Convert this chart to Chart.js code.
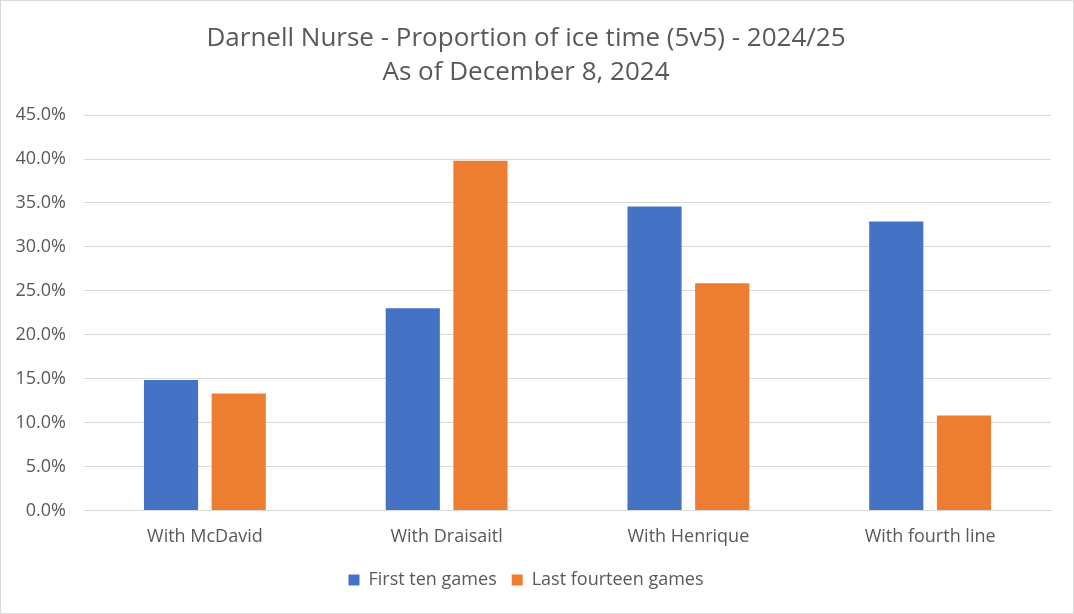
<!DOCTYPE html>
<html>
<head>
<meta charset="utf-8">
<script src="https://cdn.jsdelivr.net/npm/chart.js@4"></script>
<style>
  body { margin: 0; background: #fff; }
  #wrap { width: 1074px; height: 614px; box-sizing: border-box; border: 1px solid #d9d9d9; }
</style>
</head>
<body>
<div id="wrap"><canvas id="chart"></canvas></div>
<script>
var categories = ['With McDavid', 'With Draisaitl', 'With Henrique', 'With fourth line'];
var firstTen = [14.85, 23.0, 34.6, 32.9];
var lastFourteen = [13.3, 39.8, 25.85, 10.8];
var seriesNames = ['First ten games', 'Last fourteen games'];

var textColor = '#595959';
var fontFamily = "'Open Sans', 'Liberation Sans', sans-serif";

var ctx = document.getElementById('chart').getContext('2d');
var myChart = new Chart(ctx, {
    type: 'bar',
    data: {
        labels: categories,
        datasets: [{
            label: seriesNames[0],
            data: firstTen,
            backgroundColor: '#4472C4',
            categoryPercentage: 0.56,
            barPercentage: 0.8
        }, {
            label: seriesNames[1],
            data: lastFourteen,
            backgroundColor: '#ED7D31',
            categoryPercentage: 0.56,
            barPercentage: 0.8
        }]
    },
    options: {
        responsive: true,
        maintainAspectRatio: false,
        animation: false,
        layout: { padding: { left: 0, right: 22, top: 8, bottom: 14 } },
        plugins: {
            title: {
                display: true,
                text: ['Darnell Nurse - Proportion of ice time (5v5) - 2024/25', 'As of December 8, 2024'],
                color: textColor,
                font: { family: fontFamily, size: 26, weight: 'normal', lineHeight: 1.31 },
                padding: { top: 13, bottom: 25 }
            },
            legend: {
                position: 'bottom',
                labels: {
                    color: textColor,
                    font: { family: fontFamily, size: 18 },
                    boxWidth: 11,
                    boxHeight: 11,
                    padding: 15
                }
            },
            tooltip: { enabled: false }
        },
        scales: {
            x: {
                grid: { display: false },
                border: { color: '#d9d9d9' },
                ticks: {
                    color: textColor,
                    font: { family: fontFamily, size: 18 },
                    padding: 8
                }
            },
            y: {
                min: 0,
                max: 45,
                border: { display: false },
                grid: { color: '#d9d9d9', drawTicks: false },
                afterFit: function (axis) { axis.width = 83; },
                ticks: {
                    stepSize: 5,
                    color: textColor,
                    font: { family: fontFamily, size: 18 },
                    padding: 18,
                    callback: function (v) { return v.toFixed(1) + '%'; }
                }
            }
        }
    }
});
</script>
</body>
</html>
